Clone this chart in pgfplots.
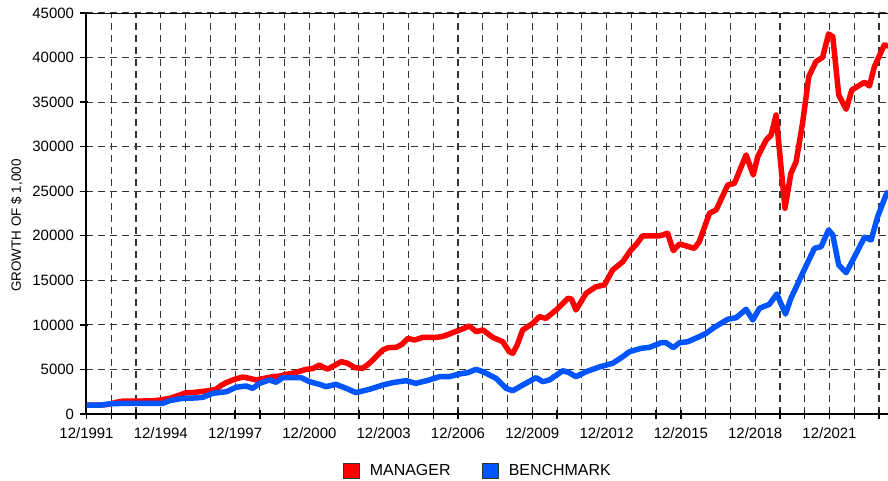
\documentclass[border=0pt]{standalone}
\usepackage{fontspec}
\setmainfont{Liberation Sans}
\usepackage{pgfplots}
\pgfplotsset{compat=1.18}
\definecolor{mgr}{RGB}{255,0,0}
\definecolor{bmk}{RGB}{0,85,255}
\begin{document}
\begin{tikzpicture}
\begin{axis}[
  at={(0,0)}, anchor=origin,
  scale only axis, width=801.5bp, height=401bp,
  xmin=1991.917, xmax=2024.28, ymin=0, ymax=45000,
  axis x line*=bottom, axis y line*=left,
  axis line style={-, line width=2bp, black},
  xtick={1991.917,1992.917,...,2023.95},
  xticklabels={12/1991,{},{},12/1994,{},{},12/1997,{},{},12/2000,{},{},12/2003,{},{},12/2006,{},{},12/2009,{},{},12/2012,{},{},12/2015,{},{},12/2018,{},{},12/2021,{},{}},
  minor x tick num=5,
  ytick={0,5000,...,45000},
  scaled y ticks=false,
  /pgf/number format/assume math mode=true,
  yticklabel style={/pgf/number format/fixed, /pgf/number format/1000 sep={}, font=\fontsize{15}{17}\selectfont},
  xticklabel style={font=\fontsize{15}{17}\selectfont, yshift=-1bp},
  tick align=outside,
  major tick length=9bp, minor tick length=9bp,
  x tick style={yshift=4bp},
  y tick style={xshift=2bp},
  tick style={black, line width=1.3bp},
  xmajorgrids, ymajorgrids,
  major grid style={dash pattern=on 7bp off 5bp, black!80, line width=1.1bp},
  ylabel={GROWTH OF \$ 1,000},
  ylabel style={at={(axis description cs:-0.087,0.47)}, anchor=center, font=\fontsize{13.5}{15}\selectfont},
  legend columns=2,
  legend style={at={(axis description cs:0.488,0)}, anchor=center, yshift=-57bp, draw=none, fill=none,
    font=\fontsize{16}{18}\selectfont,
    /tikz/every odd column/.append style={column sep=8bp},
    /tikz/every even column/.append style={column sep=29bp}},
  clip=true,
]
\addplot[mgr, line width=5.5bp, line join=round,
  legend image code/.code={\draw[fill=mgr, draw=black!80, line width=1.3bp] (0bp,-7.5bp) rectangle (16bp,8bp);}]
 coordinates {
(1991.92,1000)(1992.5,1000)(1992.85,1100)(1993.1,1300)(1993.4,1450)(1994.0,1450)(1994.6,1480)(1994.9,1570)
(1995.27,1760)(1995.6,2050)(1995.94,2390)(1996.2,2400)(1996.48,2500)(1996.8,2600)(1997.15,2770)(1997.35,3200)
(1997.56,3520)(1997.9,3900)(1998.23,4150)(1998.5,4000)(1998.77,3820)(1999.1,4000)(1999.44,4190)(1999.7,4250)
(1999.98,4450)(2000.3,4600)(2000.78,5010)(2001.05,5100)(2001.32,5500)(2001.5,5200)(2001.66,5050)(2001.9,5400)
(2002.2,5870)(2002.45,5700)(2002.75,5200)(2003.07,5130)(2003.3,5600)(2003.48,6060)(2003.88,7180)(2004.1,7450)
(2004.42,7480)(2004.65,7800)(2004.89,8490)(2005.16,8300)(2005.5,8600)(2006.04,8600)(2006.3,8700)(2006.57,8980)
(2006.91,9350)(2007.15,9600)(2007.38,9880)(2007.65,9240)(2007.92,9430)(2008.32,8600)(2008.72,8120)(2008.99,6990)
(2009.13,6810)(2009.3,7700)(2009.53,9430)(2009.94,10180)(2010.2,10920)(2010.47,10740)(2010.88,11670)(2011.15,12400)
(2011.35,12980)(2011.5,12900)(2011.68,11670)(2012.09,13540)(2012.49,14290)(2012.83,14480)(2013.16,16160)(2013.57,17090)
(2013.9,18410)(2014.1,18970)(2014.37,19980)(2015.05,19980)(2015.38,20280)(2015.61,18330)(2015.86,19080)(2016.46,18590)
(2016.66,19340)(2017.07,22520)(2017.34,22900)(2017.81,25700)(2018.08,25890)(2018.55,29070)(2018.84,26820)(2019.02,28880)
(2019.36,30750)(2019.56,31310)(2019.76,33560)(2020.12,23090)(2020.36,27010)(2020.57,28320)(2020.83,32620)(2021.08,37860)
(2021.37,39540)(2021.64,40030)(2021.88,42650)(2022.05,42350)(2022.29,35800)(2022.59,34200)(2022.82,36360)(2023.33,37230)
(2023.53,36810)(2023.73,38980)(2024.13,41410)(2024.3,41300)
};
\addlegendentry{MANAGER}
\addplot[bmk, line width=5.5bp, line join=round,
  legend image code/.code={\draw[fill=bmk, draw=black!80, line width=1.3bp] (0bp,-7.5bp) rectangle (16bp,8bp);}]
 coordinates {
(1991.92,1000)(1992.5,1000)(1992.9,1150)(1993.5,1200)(1994.5,1200)(1995.0,1200)(1995.27,1500)(1995.8,1760)
(1996.3,1800)(1996.61,1870)(1997.01,2320)(1997.56,2500)(1997.96,3000)(1998.36,3140)(1998.63,2880)(1998.9,3440)
(1999.3,3820)(1999.57,3560)(1999.84,4080)(2000.58,4080)(2000.92,3630)(2001.32,3330)(2001.59,3070)(2001.99,3330)
(2002.4,2880)(2002.8,2400)(2003.34,2770)(2003.88,3250)(2004.28,3520)(2004.82,3740)(2005.22,3440)(2005.76,3820)
(2006.17,4190)(2006.57,4190)(2006.97,4490)(2007.31,4640)(2007.65,5010)(2007.92,4750)(2008.46,4000)(2008.86,2880)
(2009.13,2620)(2009.53,3250)(2010.07,4080)(2010.34,3630)(2010.61,3820)(2011.15,4860)(2011.4,4640)(2011.68,4190)
(2012.09,4750)(2012.63,5280)(2013.16,5690)(2013.5,6300)(2013.84,6990)(2014.31,7370)(2014.65,7480)(2015.12,8000)
(2015.32,8000)(2015.61,7440)(2015.86,8000)(2016.19,8110)(2016.66,8680)(2016.93,9050)(2017.27,9730)(2017.81,10630)
(2018.15,10810)(2018.55,11750)(2018.82,10550)(2019.09,11860)(2019.49,12310)(2019.79,13470)(2020.14,11220)(2020.36,12980)
(2020.83,15790)(2021.31,18590)(2021.58,18780)(2021.88,20650)(2022.05,20090)(2022.29,16720)(2022.59,15860)(2022.86,17280)
(2023.33,19830)(2023.6,19530)(2023.86,22140)(2024.2,24580)(2024.3,25000)
};
\addlegendentry{BENCHMARK}
\draw[black, line width=1.3bp] (rel axis cs:0,1) -- (rel axis cs:1,1);
\end{axis}
\pgfresetboundingbox
\path (-86.5bp,-67bp) rectangle (801.5bp,414bp);
\end{tikzpicture}
\end{document}
